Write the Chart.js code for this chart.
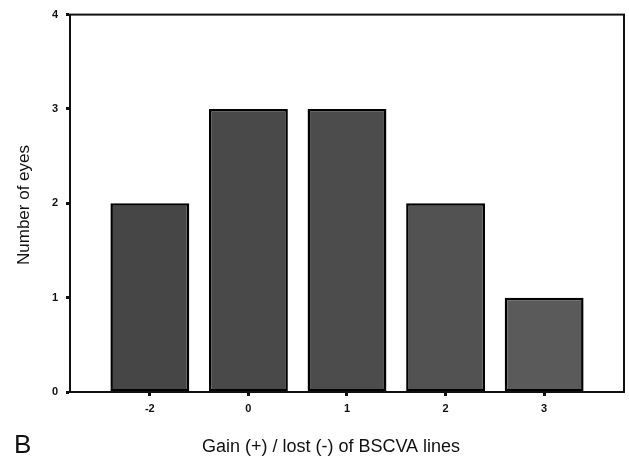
<!DOCTYPE html>
<html>
<head>
<meta charset="utf-8">
<script src="https://cdn.jsdelivr.net/npm/chart.js@4.4.1/dist/chart.umd.min.js"></script>
<style>
  html, body { margin: 0; padding: 0; background: #fff; }
  canvas { display: block; }
</style>
</head>
<body>
<canvas id="myChart" width="629" height="456"></canvas>
<script>
// data
const xLabels = ["-2", "0", "1", "2", "3"];
const eyeCounts = [2, 3, 3, 2, 1];
const yTicks = [0, 1, 2, 3, 4];

// slightly lighter grey towards the right, as in the scan
const barColors = ["#464646", "#494949", "#4c4c4c", "#525252", "#5a5a5a"];

const tickFont = { family: "'Liberation Sans', Arial, sans-serif", size: 11, weight: "bold" };

// frame round the plot + the free text (axis titles, panel letter)
const framePlugin = {
  id: "frame",
  afterDraw(chart) {
    const { ctx, chartArea: a } = chart;
    ctx.save();
    ctx.strokeStyle = "#111";
    ctx.lineWidth = 2;
    ctx.strokeRect(a.left, a.top, a.right - a.left, a.bottom - a.top);

    ctx.fillStyle = "#111";
    ctx.textBaseline = "alphabetic";

    ctx.font = "18px 'Liberation Sans', Arial, sans-serif";
    ctx.textAlign = "center";
    ctx.fillText("Gain (+) / lost (-) of BSCVA lines", 331, 452);

    ctx.font = "26px 'Liberation Sans', Arial, sans-serif";
    ctx.textAlign = "left";
    ctx.fillText("B", 14, 453);

    ctx.translate(29, 205);
    ctx.rotate(-Math.PI / 2);
    ctx.font = "17px 'Liberation Sans', Arial, sans-serif";
    ctx.textAlign = "center";
    ctx.fillText("Number of eyes", 0, 0);
    ctx.restore();
  }
};

const ctx = document.getElementById("myChart").getContext("2d");
new Chart(ctx, {
  type: "bar",
  data: {
    datasets: [{
      data: eyeCounts.map((v, i) => ({ x: i, y: v })),
      backgroundColor: barColors,
      borderColor: "#000",
      borderWidth: 2.5,
      borderSkipped: false,
      barPercentage: 0.8,
      categoryPercentage: 1
    }]
  },
  options: {
    responsive: false,
    animation: false,
    layout: { padding: { top: 14, right: 5, left: 0, bottom: 0 } },
    plugins: { legend: { display: false }, tooltip: { enabled: false } },
    scales: {
      x: {
        type: "linear",
        offset: false,
        min: -0.81,
        max: xLabels.length - 1 + 0.81,
        afterFit: (scale) => { scale.height = 64; },
        afterBuildTicks: (scale) => {
          scale.ticks = xLabels.map((_, i) => ({ value: i }));
        },
        ticks: {
          color: "#111",
          font: tickFont,
          padding: 6,
          autoSkip: false,
          maxRotation: 0,
          callback: (v) => xLabels[v]
        },
        grid: {
          offset: false,
          drawOnChartArea: false,
          drawTicks: true,
          tickLength: 4,
          tickWidth: 3,
          color: "#111"
        },
        border: { display: true, color: "#111", width: 2 }
      },
      y: {
        min: 0,
        max: 4,
        afterFit: (scale) => { scale.width = 70; },
        afterBuildTicks: (scale) => {
          scale.ticks = yTicks.map((v) => ({ value: v }));
        },
        ticks: {
          color: "#111",
          font: tickFont,
          padding: 8
        },
        grid: {
          drawOnChartArea: false,
          drawTicks: true,
          tickLength: 4,
          tickWidth: 3,
          color: "#111"
        },
        border: { display: true, color: "#111", width: 2 }
      }
    }
  },
  plugins: [framePlugin]
});
</script>
</body>
</html>
